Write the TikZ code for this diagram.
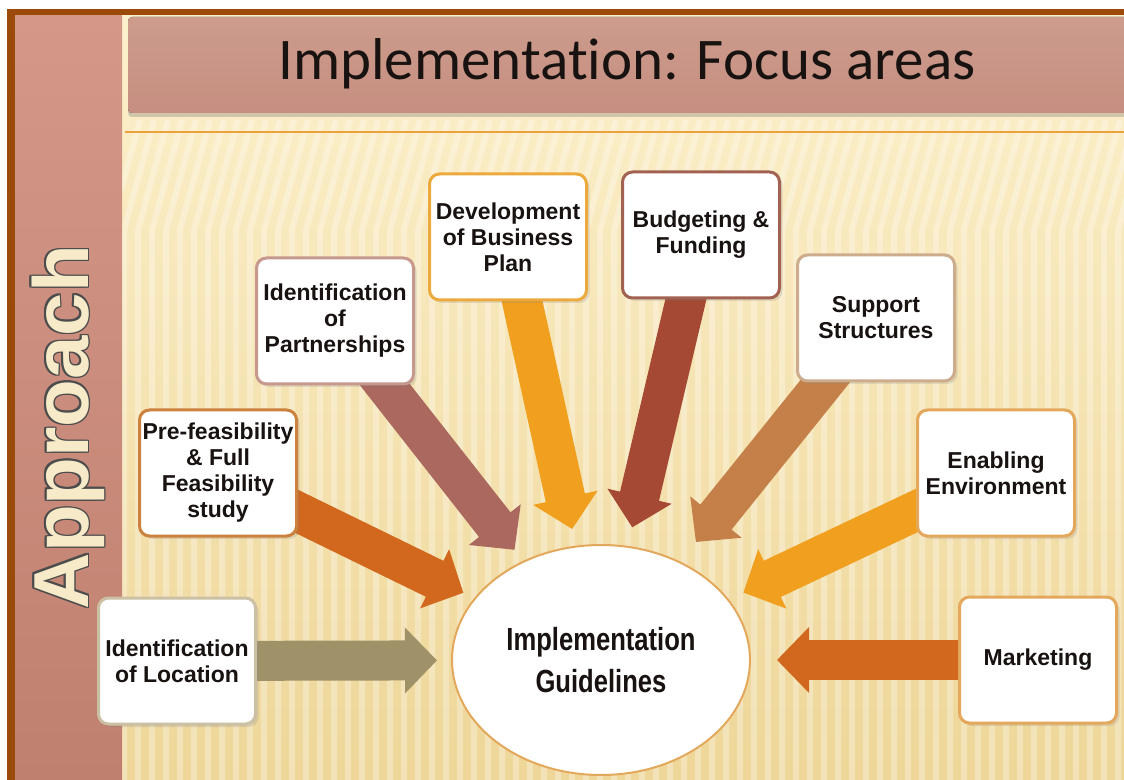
\documentclass[tikz,border=0pt]{standalone}
\usepackage{fontspec}
\setmainfont{Liberation Sans}
\newfontfamily\titlefont{Carlito}[Ligatures=NoCommon]
\newfontfamily\guidefont{Liberation Sans}[FakeStretch=0.8]
\usetikzlibrary{arrows.meta,shapes.geometric,shadows,backgrounds}

\definecolor{framebrown}{RGB}{156,74,10}
\definecolor{bandtop}{RGB}{212,152,136}
\definecolor{bandmid}{RGB}{182,116,102}
\definecolor{bandbot}{RGB}{192,128,112}
\definecolor{bartop}{RGB}{204,156,140}
\definecolor{barmid}{RGB}{168,106,92}
\definecolor{barbot}{RGB}{198,142,128}
\definecolor{creamtop}{RGB}{252,240,204}
\definecolor{creambot}{RGB}{238,214,152}
\definecolor{rule}{RGB}{234,162,62}
\definecolor{lettering}{RGB}{246,234,200}
\definecolor{ink}{RGB}{24,18,16}
% arrow and box colours
\definecolor{olive}{RGB}{160,146,104}
\definecolor{rust}{RGB}{210,104,30}
\definecolor{rose}{RGB}{170,104,94}
\definecolor{amber}{RGB}{240,160,30}
\definecolor{maroon}{RGB}{165,72,52}
\definecolor{tan}{RGB}{196,128,72}
\definecolor{lightolive}{RGB}{204,192,164}
\definecolor{lightrust}{RGB}{204,130,62}
\definecolor{lightrose}{RGB}{198,152,142}
\definecolor{lightamber}{RGB}{236,170,62}
\definecolor{lightmaroon}{RGB}{162,98,82}
\definecolor{lighttan}{RGB}{204,172,140}
\definecolor{lightorange}{RGB}{228,168,92}

\begin{document}
\begin{tikzpicture}[x=0.5pt, y=-0.5pt,
    box/.style={draw=#1, line width=1.5pt, fill=white, rounded corners=5pt,
      minimum width=78.5pt, minimum height=63pt, inner sep=1pt, align=center,
      text=ink, font=\bfseries\fontsize{11.5}{13}\selectfont,
      drop shadow={opacity=0.2, shadow xshift=1.5pt, shadow yshift=-1.5pt}},
    fat/.style={line width=20pt, draw=#1, shorten <=-10pt,
      -{Triangle[length=16pt, width=32pt]}}]
  \useasboundingbox (0,0) rectangle (1124,780);

  % frame, side band and title bar
  \begin{scope}[on background layer]
    \fill [framebrown] (7,9) rectangle (1124,780);
    \fill [top color=creamtop, bottom color=creambot] (122,16) rectangle (1124,780);
    \begin{scope}
      \clip (122,16) rectangle (1124,780);
      \foreach \x in {110,124,...,1130}
        \draw [white, opacity=0.3, line width=3pt] (\x,780) -- (\x,230) -- (\x+30,120);
    \end{scope}
    \fill [shading=axis, top color=bandtop, middle color=bandmid, bottom color=bandbot]
      (15,16) rectangle (122,780);
    \fill [shading=axis, top color=bartop, middle color=barmid, bottom color=barbot,
      rounded corners=2pt, drop shadow={opacity=0.35, shadow xshift=0pt, shadow yshift=-2pt}]
      (128,17) rectangle (1130,113);
    \draw [rule, line width=1.2pt] (125,132) -- (1124,132);
  \end{scope}

  \node [anchor=base, text=ink, font=\titlefont\fontsize{29.5}{30}\selectfont]
    (title) at (627,80) {Implementation: Focus areas};

  % outlined side lettering
  \foreach \dx/\dy [count=\i] in {-1/0, 1/0, 0/-1, 0/1, -1/-1, 1/1, -1/1, 1/-1}
    \node [rotate=90, anchor=base, text=black!70, font=\bfseries\fontsize{39}{40}\selectfont]
      (edge\i) at (88+1.3*\dx,427+1.3*\dy) {Approach};
  \node [rotate=90, anchor=base, text=lettering, font=\bfseries\fontsize{39}{40}\selectfont]
    (approach) at (88,427) {Approach};

  % focus areas
  \node [ellipse, draw=lightorange, line width=1pt, fill=white, minimum width=149pt,
    minimum height=115pt, align=center, text=ink,
    font=\guidefont\bfseries\fontsize{16}{21}\selectfont] (guide) at (601,660)
    {Implementation\\Guidelines};
  \node [box=lightolive] (loc) at (177,661) {Identification\\of Location};
  \node [box=lightrust] (prefeas) at (218,473) {Pre-feasibility\\\& Full\\Feasibility\\study};
  \node [box=lightrose] (partner) at (335,321) {Identification\\of\\Partnerships};
  \node [box=lightamber] (plan) at (508,237) {Development\\of Business\\Plan};
  \node [box=lightmaroon] (budget) at (701,235) {Budgeting \&\\Funding};
  \node [box=lighttan] (support) at (876,318) {Support\\Structures};
  \node [box=lightorange] (enabling) at (996,473) {Enabling\\Environment};
  \node [box=lightorange] (market) at (1038,660) {Marketing};

  \begin{scope}[on background layer]
    \draw [fat=olive, shorten >=7pt] (loc) -- (guide);
    \draw [fat=rust, shorten >=6pt] (prefeas) -- (guide);
    \draw [fat=rose, shorten >=7pt] (partner) -- (guide);
    \draw [fat=amber, shorten >=8.5pt] (plan) -- (guide);
    \draw [fat=maroon, shorten >=9.5pt] (budget) -- (guide);
    \draw [fat=tan, shorten >=12.5pt] (support) -- (guide);
    \draw [fat=amber, shorten >=8pt] (enabling) -- (guide);
    \draw [fat=rust, shorten >=13pt] (market) -- (guide);
  \end{scope}
\end{tikzpicture}
\end{document}
